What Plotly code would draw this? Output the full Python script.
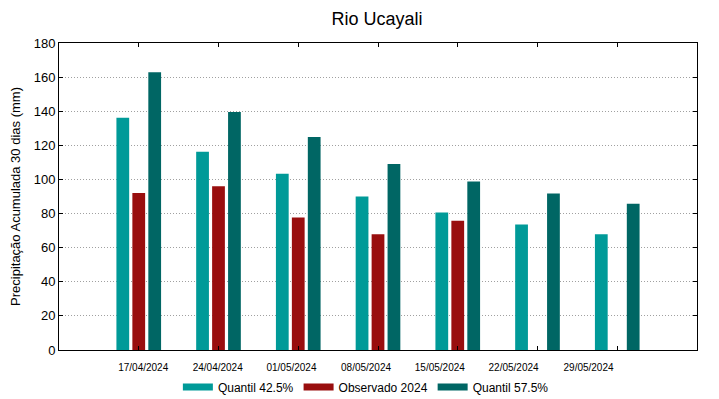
import plotly.graph_objects as go

# ---- data ----
dates = ["17/04/2024", "24/04/2024", "01/05/2024", "08/05/2024",
         "15/05/2024", "22/05/2024", "29/05/2024"]
positions = [1, 2, 3, 4, 5, 6, 7]
label_positions = [1.056, 1.99, 2.915, 3.85, 4.775, 5.70, 6.64]
quantil_425 = [136.1, 116.3, 103.4, 90.0, 80.6, 73.6, 67.9]
observado_2024 = [92.1, 96.0, 77.7, 67.9, 75.8, None, None]
quantil_575 = [162.8, 139.6, 124.9, 109.1, 98.8, 91.7, 85.7]
y_ticks = [0, 20, 40, 60, 80, 100, 120, 140, 160, 180]

series = [
    ("Quantil 42.5%", quantil_425, "#009a98"),
    ("Observado 2024", observado_2024, "#990e0e"),
    ("Quantil 57.5%", quantil_575, "#006664"),
]

FONT = "Liberation Sans, Arial, sans-serif"
W, H = 711, 391  # page body adds an 8px offset

fig = go.Figure()
for name, vals, col in series:
    fig.add_trace(go.Bar(x=positions, y=vals, name=name, marker_color=col,
                         marker_line_width=0, showlegend=False))
for name, vals, col in series:
    fig.add_trace(go.Scatter(x=[None], y=[None], mode="lines", name=name,
                             line=dict(color=col, width=7), showlegend=True))

# label axis (labels drawn at their own positions)
fig.add_trace(go.Scatter(x=[None], y=[None], xaxis="x2", showlegend=False))

fig.update_layout(
    width=W, height=H,
    margin=dict(l=51, r=22, t=35, b=49, autoexpand=False),
    paper_bgcolor="white", plot_bgcolor="white",
    font=dict(family=FONT, color="black", size=13),
    title=dict(text="Rio Ucayali", xref="container", x=369 / W, xanchor="center",
               yref="container", y=1 - 4 / H, yanchor="top", pad=dict(t=0),
               font=dict(size=18, family=FONT)),
    barmode="group", bargap=0.4, bargroupgap=0.2,
    xaxis=dict(range=[0, 8], tickvals=positions, showticklabels=False,
               ticks="inside", ticklen=4, tickcolor="black",
               showline=True, linecolor="black", linewidth=1, mirror="ticks",
               showgrid=False, zeroline=False, automargin=False),
    xaxis2=dict(range=[0, 8], overlaying="x", side="bottom",
                tickvals=label_positions, ticktext=dates, ticks="",
                showline=False, showgrid=False, zeroline=False,
                automargin=False, ticklabelstandoff=10,
                tickfont=dict(size=10, family=FONT)),
    yaxis=dict(range=[0, 180], tickvals=y_ticks,
               ticks="inside", ticklen=4, tickcolor="black",
               showline=True, linecolor="black", linewidth=1, mirror="ticks",
               showgrid=True, gridcolor="#a0a0a0", griddash="1px,2px", gridwidth=1,
               zeroline=False, automargin=False,
               tickfont=dict(size=13, family=FONT),
               title=dict(text="Precipitação Acumulada 30 dias (mm)",
                          font=dict(size=13, family=FONT), standoff=10)),
    legend=dict(orientation="h", x=0.481, xanchor="center",
                yref="container", y=1 - 379 / H, yanchor="middle",
                font=dict(size=12, family=FONT),
                bgcolor="rgba(0,0,0,0)", itemwidth=30, tracegroupgap=0),
)

fig.write_html("out.html")
